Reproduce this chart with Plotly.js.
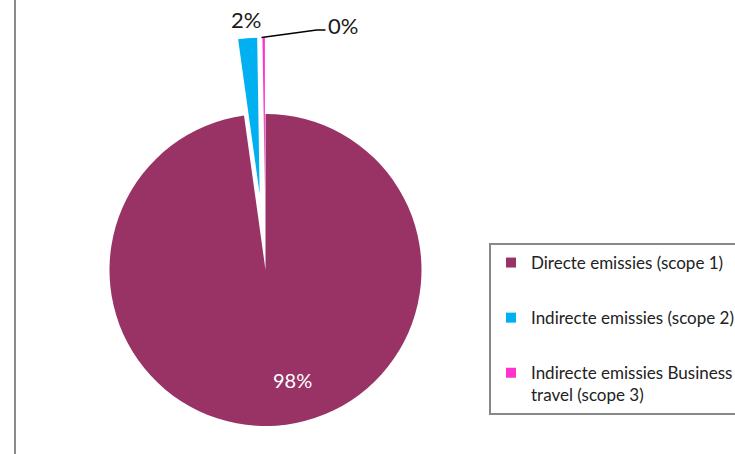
<!DOCTYPE html>
<html>
<head>
<meta charset="utf-8">
<script src="https://cdn.plot.ly/plotly-3.0.1.min.js"></script>
<style>
  html, body { margin: 0; padding: 0; background: #fff; overflow: hidden; }
  #wrap { width: 735px; height: 454px; overflow: hidden; position: relative; }
  #chart { width: 735px; height: 510px; }
</style>
</head>
<body>
<div id="wrap"><div id="chart"></div></div>
<script>
// ---- data ----
const categories = ['Directe emissies (scope 1)', 'Indirecte emissies (scope 2)', 'Indirecte emissies Business travel (scope 3)'];
const legendLines = [['Directe emissies (scope 1)'], ['Indirecte emissies (scope 2)'], ['Indirecte emissies Business', 'travel (scope 3)']];
const shares = [97.8, 1.95, 0.25];
const pctLabels = ['98%', '2%', '0%'];
const sliceColors = ['#993366', '#00B0F0', '#FF33CC'];
const slicePull = [0, 0.49, 0.49];

// ---- layout helpers ----
const W = 735, H = 510;
const px = x => x / W;
const py = y => 1 - y / H;
const FONT = 'Lato, "Open Sans", sans-serif';

const pieTrace = {
  type: 'pie',
  labels: categories,
  values: shares,
  sort: false,
  direction: 'clockwise',
  rotation: 0,
  pull: slicePull,
  textinfo: 'none',
  hoverinfo: 'none',
  showlegend: false,
  marker: { colors: sliceColors, line: { width: 0 } },
  domain: { x: [px(25.5), px(505.5)], y: [py(502.44), py(37.56)] }
};

// legend entries, one per category (same colours as the slices)
const legendTraces = categories.map((c, i) => ({
  type: 'scatter', mode: 'markers', x: [null], y: [null],
  name: legendLines[i].join('<br>'),
  legendgroup: 'g' + i,
  showlegend: true, hoverinfo: 'skip',
  marker: { symbol: 'square', size: 10, color: sliceColors[i] }
}));

const labelPos = [
  { x: 292, y: 380, color: '#ffffff', size: 20 },
  { x: 245.5, y: 19.5, color: '#1a1a1a', size: 22 },
  { x: 343, y: 25, color: '#1a1a1a', size: 22 }
];

const annotations = pctLabels.map((t, i) => ({
  text: t, xref: 'paper', yref: 'paper', x: px(labelPos[i].x), y: py(labelPos[i].y),
  xanchor: 'center', yanchor: 'middle', showarrow: false,
  font: { family: FONT, size: labelPos[i].size, color: labelPos[i].color }
}));

const shapes = [
  { type: 'line', xref: 'paper', yref: 'paper', x0: px(15), x1: px(15), y0: py(0), y1: py(510),
    line: { color: '#8a8a8a', width: 2 } },
  { type: 'path', xref: 'paper', yref: 'paper',
    path: 'M ' + px(261.5) + ' ' + py(37.5) + ' L ' + px(316.7) + ' ' + py(30) + ' L ' + px(325.5) + ' ' + py(30),
    line: { color: '#000000', width: 1.5 } }
];

const layout = {
  width: W, height: H,
  margin: { l: 0, r: 0, t: 0, b: 0, autoexpand: false },
  paper_bgcolor: '#ffffff',
  plot_bgcolor: 'rgba(0,0,0,0)',
  xaxis: { visible: false, showgrid: false, zeroline: false },
  yaxis: { visible: false, showgrid: false, zeroline: false },
  showlegend: true,
  legend: {
    x: px(489), xanchor: 'left', y: py(243), yanchor: 'top',
    xref: 'paper', yref: 'paper',
    bordercolor: '#888888', borderwidth: 2, bgcolor: '#ffffff',
    font: { family: FONT, size: 17, color: '#222222' },
    valign: 'top', tracegroupgap: 30, traceorder: 'grouped'
  },
  annotations: annotations,
  shapes: shapes,
  font: { family: FONT }
};

Plotly.newPlot('chart', [pieTrace].concat(legendTraces), layout, { staticPlot: true, displayModeBar: false });
</script>
</body>
</html>
